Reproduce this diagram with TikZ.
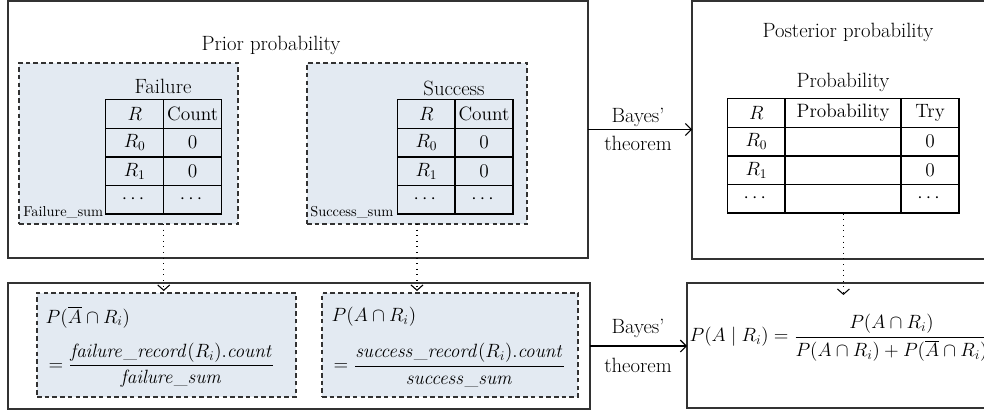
\documentclass[tikz,border=0pt]{standalone}
\usepackage{amsmath}
\usetikzlibrary{arrows.meta,matrix}
\definecolor{boxfill}{RGB}{227,234,242}
\definecolor{edge}{RGB}{50,50,50}
\begin{document}
\begin{tikzpicture}[x=0.75pt,y=-0.75pt,
  every node/.style={font=\fontsize{15.5}{21}\selectfont},
  mathtext/.style={font=\fontsize{14}{18}\selectfont},
  outerbox/.style={draw=edge,line width=1pt,inner sep=0pt,outer sep=0pt,anchor=north west},
  dashbox/.style={draw=edge,fill=boxfill,line width=1.1pt,dash pattern=on 3.4pt off 2.4pt,inner sep=0pt,outer sep=0pt,anchor=north west},
  arr/.style={draw=black,line width=0.8pt,-{Straight Barb[length=4.5pt,width=9pt]}},
  dotarr/.style={draw=black,line width=0.8pt,dash pattern=on 0.8pt off 3.4pt,-{Straight Barb[length=4pt,width=9pt]}},
  smalltext/.style={font=\fontsize{10.8}{12}\selectfont,inner sep=0pt},
  tab/.style={matrix of nodes,nodes in empty cells,anchor=north west,inner sep=0pt,outer sep=0pt,
    row sep=-1.1pt,column sep=-1.1pt,
    nodes={draw=black,line width=1.1pt,minimum height=21.4pt,inner sep=0pt,anchor=center,font=\fontsize{14.5}{18}\selectfont}},
]
\useasboundingbox (0,0) rectangle (984,410);

% outer boxes
\node[outerbox,minimum width=435pt,minimum height=192.75pt] (prior) at (8,1) {};
\node[outerbox,minimum width=240pt,minimum height=193.5pt] (post) at (692,1) {};
\node[outerbox,minimum width=436.5pt,minimum height=94.5pt] (lik) at (8,283) {};
\node[outerbox,minimum width=247.5pt,minimum height=93.75pt] (res) at (687,283) {};

% dashed boxes
\node[dashbox,minimum width=164.25pt,minimum height=120.75pt] (d1) at (19,63) {};
\node[dashbox,minimum width=165pt,minimum height=120.75pt] (d2) at (307,63) {};
\node[dashbox,minimum width=194.25pt,minimum height=78pt] (d3) at (37,293) {};
\node[dashbox,minimum width=192pt,minimum height=78pt] (d4) at (322,293) {};

% titles
\node (tprior) at (271,45) {Prior probability};
\node (tfail) at (163,86) {Failure};
\node (tsucc) at (454,88) {Success};
\node (tpost) at (848,32) {Posterior probability};
\node (tprob) at (843,82) {Probability};
\node[smalltext,anchor=west] (fsum) at (23,212) {Failure\_sum};
\node[smalltext,anchor=west] (ssum) at (310,212) {Success\_sum};

% tables
\matrix (ftab) [tab,column 1/.style={nodes={minimum width=43.5pt}},column 2/.style={nodes={minimum width=43.5pt}}] at (105,99) {
  $R$ & Count \\
  $R_0$ & 0 \\
  $R_1$ & 0 \\
  $\cdots$ & $\cdots$ \\
};
\matrix (stab) [tab,column 1/.style={nodes={minimum width=43pt}},column 2/.style={nodes={minimum width=43.5pt}}] at (397,99) {
  $R$ & Count \\
  $R_0$ & 0 \\
  $R_1$ & 0 \\
  $\cdots$ & $\cdots$ \\
};
\matrix (ptab) [tab,column 1/.style={nodes={minimum width=43pt}},column 2/.style={nodes={minimum width=87pt}},column 3/.style={nodes={minimum width=43.5pt}}] at (727,98) {
  $R$ & Probability & Try \\
  $R_0$ & & 0 \\
  $R_1$ & & 0 \\
  $\cdots$ & & $\cdots$ \\
};

% formulas
\node[mathtext,anchor=west] (f1a) at (41,317) {$P(\overline{A}\cap R_i)$};
\node[mathtext,anchor=west] (f1b) at (44,365) {$=\dfrac{\mathit{failure\_record}(R_i).\mathit{count}}{\mathit{failure\_sum}}$};
\node[mathtext,anchor=west] (f2a) at (327,317) {$P(A\cap R_i)$};
\node[mathtext,anchor=west] (f2b) at (329,365) {$=\dfrac{\mathit{success\_record}(R_i).\mathit{count}}{\mathit{success\_sum}}$};
\node[mathtext,anchor=west,inner sep=1pt] (f3) at (688,338) {$P(A\mid R_i) = \dfrac{P(A\cap R_i)}{P(A\cap R_i)+P(\overline{A}\cap R_i)}$};

% Bayes arrows
\draw[arr] (prior.east) -- (prior.east -| post.west);
\node[align=center] (bt1) at (638,129) {Bayes'\\theorem};
\draw[arr] (lik.east) -- (lik.east -| res.west);
\node (bt2a) at (638,328) {Bayes'};
\node (bt2b) at (638,365) {theorem};

% dotted arrows
\draw[dotarr] (ftab.south |- d1.south) -- ([yshift=1.5pt]ftab.south |- d3.north);
\draw[dotarr] (d2.south) -- ([yshift=1.5pt]d2.south |- d4.north);
\draw[dotarr] (ptab.south) -- ([yshift=-9pt]ptab.south |- res.north);
\end{tikzpicture}
\end{document}
